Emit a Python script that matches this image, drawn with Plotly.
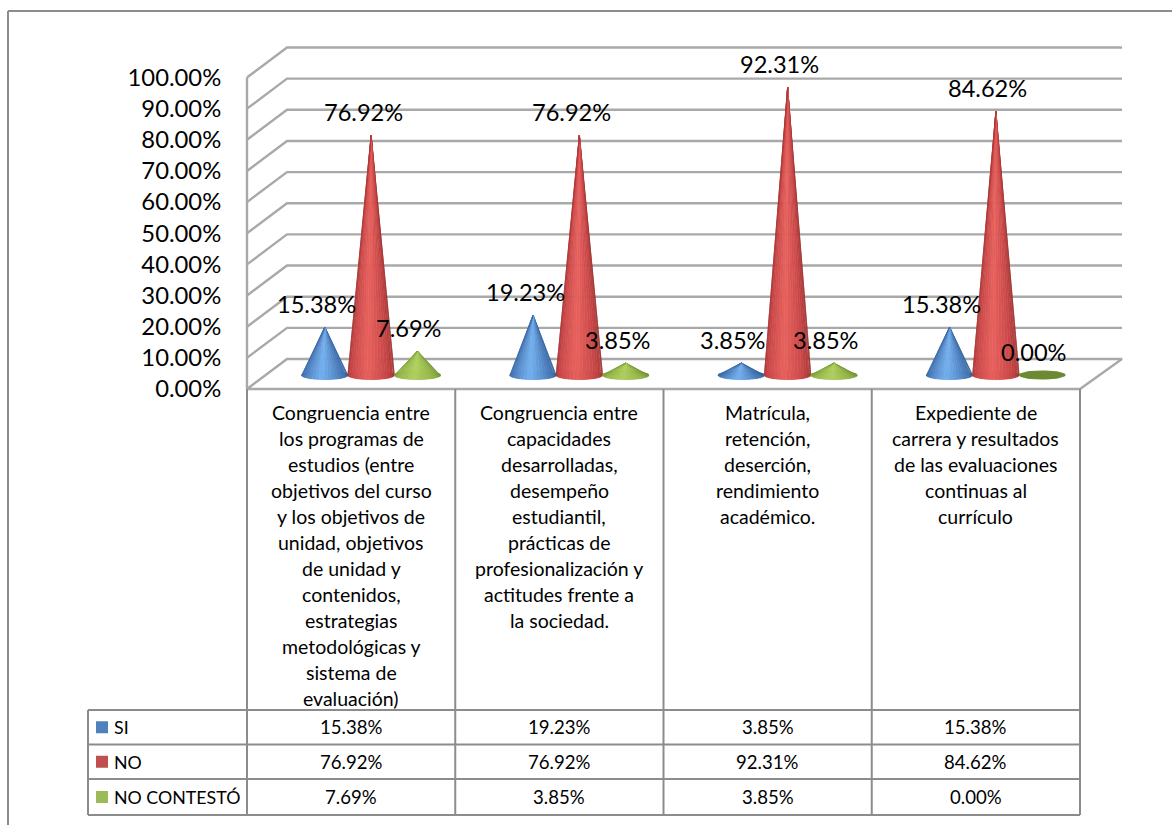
import math
import plotly.graph_objects as go

# ---------- data ----------
series_names = ["SI", "NO", "NO CONTESTÓ"]
si_values = [15.38, 19.23, 3.85, 15.38]
no_values = [76.92, 76.92, 92.31, 84.62]
nc_values = [7.69, 3.85, 3.85, 0.00]
category_lines = [
    ["Congruencia entre", "los programas de", "estudios (entre", "objetivos del curso",
     "y los objetivos de", "unidad, objetivos", "de unidad y", "contenidos,", "estrategias",
     "metodológicas y", "sistema de", "evaluación)"],
    ["Congruencia entre", "capacidades", "desarrolladas,", "desempeño", "estudiantil,",
     "prácticas de", "profesionalización y", "actitudes frente a", "la sociedad."],
    ["Matrícula,", "retención,", "deserción,", "rendimiento", "académico."],
    ["Expediente de", "carrera y resultados", "de las evaluaciones", "continuas al", "currículo"],
]
y_ticks = [0, 10, 20, 30, 40, 50, 60, 70, 80, 90, 100]

# ---------- style ----------
W, H = 1172, 825
FONT = "Lato"
X0, COLW = 247.0, 208.25      # front-left pixel, category width
Y0, UNIT = 389.0, 3.115       # pixel of 0 on the front plane, pixels per percent
DEPTH_X, DEPTH_Y = 40.0, 30.0
DOM_L = 240.0
GRID = "#a9a9a9"
TABLE = "#8c8c8c"
KEY = ["#4f81bd", "#c0504d", "#9bbb59"]
EDGE = [(44, 92, 150), (150, 44, 44), (112, 140, 48)]
MID = [(78, 128, 190), (200, 72, 72), (150, 184, 74)]
HIGH = [(118, 178, 240), (232, 98, 94), (176, 208, 96)]
FLAT = (108, 138, 50)

def dx(px):
    return px / COLW
def dy(px):
    return px / UNIT
def xv(px):
    return (px - X0) / COLW
def yv(px):
    return (Y0 - px) / UNIT

fig = go.Figure()

def line(xs, ys, color=GRID, width=2.4):
    fig.add_trace(go.Scatter(x=xs, y=ys, mode="lines", hoverinfo="skip", showlegend=False,
                             line=dict(color=color, width=width)))

# ---------- walls and floor, scaled with the axis values ----------
n = len(si_values)
for t in y_ticks:
    xs = [0, dx(DEPTH_X), n + dx(DEPTH_X + 2)] if t > 0 else [0, dx(DEPTH_X), n + dx(DEPTH_X + 2), n, 0]
    ys = [t, t + dy(DEPTH_Y), t + dy(DEPTH_Y)] if t > 0 else [0, dy(DEPTH_Y), dy(DEPTH_Y), 0, 0]
    line(xs, ys)
line([0, 0], [0, 100], GRID)

# ---------- cones ----------
STRIPS = 20
def mix(a, b, t):
    return tuple(a[i] + (b[i] - a[i]) * t for i in range(3))
def rgb(c):
    return "rgb(%d,%d,%d)" % tuple(round(v) for v in c)

GROUP = 46.3
SHIFT = 20.0
BASE = dy(14.0)
RX, RY = dx(23.5), dy(4.6)

def centre(cat, s):
    return cat + 0.5 + dx(SHIFT) + dx(GROUP) * (s - 1)

all_values = [si_values, no_values, nc_values]
for s, vals in enumerate(all_values):
    # base ellipses
    ex, ey = [], []
    for k, v in enumerate(vals):
        cx = centre(k, s)
        for a in range(0, 49):
            th = 2 * math.pi * a / 48
            ex.append(cx + RX * math.cos(th))
            ey.append(BASE + RY * math.sin(th))
        ex.append(None)
        ey.append(None)
    fig.add_trace(go.Scatter(x=ex, y=ey, mode="lines", fill="toself", hoverinfo="skip", showlegend=False,
                             fillcolor=rgb(FLAT if s == 2 else EDGE[s]), line=dict(width=0, color="rgba(0,0,0,0)")))
    # strips from apex to the front of the base
    for i in range(STRIPS):
        a0 = math.pi * i / STRIPS
        a1 = math.pi * (i + 1) / STRIPS
        px, py = [], []
        for k, v in enumerate(vals):
            if v <= 0:
                continue
            cx = centre(k, s)
            px += [cx, cx + RX * math.cos(a0), cx + RX * math.cos((a0 + a1) / 2), cx + RX * math.cos(a1), cx, None]
            py += [BASE + v, BASE - RY * math.sin(a0), BASE - RY * math.sin((a0 + a1) / 2),
                   BASE - RY * math.sin(a1), BASE + v, None]
        u = abs(((i + 0.5) / STRIPS) - 0.55) / 0.55
        col = mix(HIGH[s], MID[s], min(1, u * 2)) if u < 0.5 else mix(MID[s], EDGE[s], (u - 0.5) * 2)
        fig.add_trace(go.Scatter(x=px, y=py, mode="lines", fill="toself", fillcolor=rgb(col),
                                 line=dict(color=rgb(col), width=0.6), hoverinfo="skip", showlegend=False))

# ---------- table lines ----------
ROWS = [710, 744.5, 779, 815]
TOP_CELL = 389
shapes = []
def pline(x0, y0, x1, y1, color=TABLE, width=2):
    shapes.append(dict(type="line", xref="paper", yref="paper", x0=x0 / W, x1=x1 / W,
                       y0=1 - y0 / H, y1=1 - y1 / H, line=dict(color=color, width=width), layer="above"))

for k in range(n + 1):
    px_ = X0 + COLW * k
    pline(px_, TOP_CELL, px_, ROWS[-1])
for r in ROWS:
    pline(88, r, X0 + COLW * n, r)
pline(88, ROWS[0], 88, ROWS[-1])
# outer frame
pline(8, 11, W, 11)
pline(8, 11, 8, H)
for s in range(3):
    cy = (ROWS[s] + ROWS[s + 1]) / 2
    shapes.append(dict(type="rect", xref="paper", yref="paper", x0=96 / W, x1=108 / W,
                       y0=1 - (cy - 6) / H, y1=1 - (cy + 6) / H, fillcolor=KEY[s], line=dict(width=0)))

# ---------- texts ----------
ann = []
def text(x, y, t, size, xref="x", yref="y", xshift=0, yshift=0, xanchor="center"):
    ann.append(dict(x=x, y=y, text=t, xref=xref, yref=yref, xshift=xshift, yshift=yshift, showarrow=False,
                    xanchor=xanchor, yanchor="middle", font=dict(family=FONT, size=size, color="#000000")))

for s, vals in enumerate(all_values):
    for k, v in enumerate(vals):
        text(centre(k, s), BASE + v, f"{v:.2f}%", 23.6, xshift=-8, yshift=23)
        cy = (ROWS[s] + ROWS[s + 1]) / 2
        text(k + 0.5, yv(cy), f"{v:.2f}%", 18.6)
    cy = (ROWS[s] + ROWS[s + 1]) / 2
    text(112 / W, 1 - cy / H, series_names[s], 17.8, xref="paper", yref="paper", xanchor="left")

LINE_GAP = 26.0
for k, lines in enumerate(category_lines):
    for j, t in enumerate(lines):
        text(k + 0.5, yv(412 + LINE_GAP * j), t, 19.5)

fig.update_layout(
    width=W, height=H, margin=dict(l=0, r=0, t=0, b=0), paper_bgcolor="white", plot_bgcolor="white",
    showlegend=False, shapes=shapes, annotations=ann,
    xaxis=dict(domain=[DOM_L / W, 1], range=[xv(DOM_L), xv(W)], showgrid=False, zeroline=False,
               showticklabels=False, ticks="", fixedrange=True),
    yaxis=dict(domain=[0, 1], range=[yv(H), yv(0)], tickmode="array", tickvals=y_ticks,
               ticktext=[f"{t:.2f}%" for t in y_ticks], showgrid=False, zeroline=False,
               ticks="outside", ticklen=13, tickcolor="rgba(0,0,0,0)",
               tickfont=dict(family=FONT, size=23.8, color="#000000")),
)
fig.write_html("out.html", config={"displayModeBar": False},
               post_script="document.body.style.margin='0';document.body.style.overflow='hidden';")
